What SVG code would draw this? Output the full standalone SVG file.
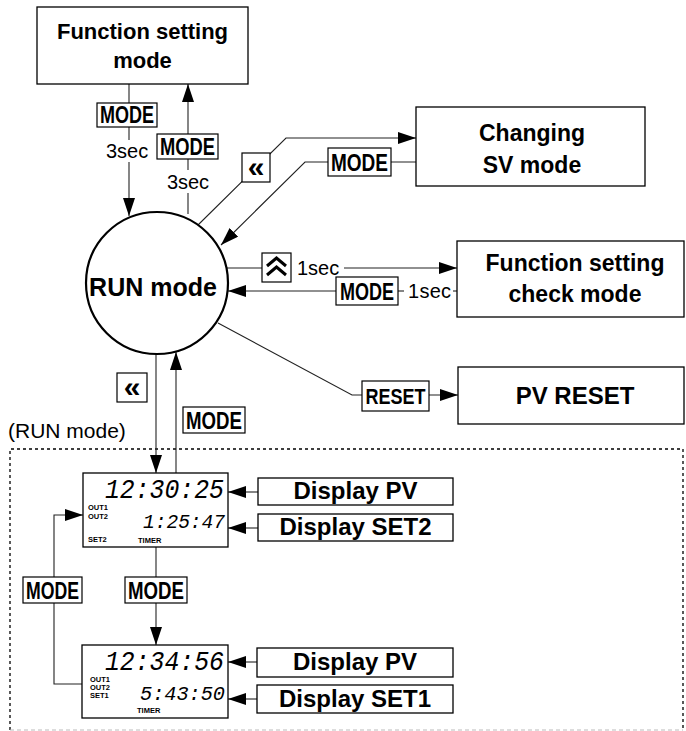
<svg xmlns="http://www.w3.org/2000/svg" width="686" height="731" viewBox="0 0 686 731">
<style>
.box{fill:#fff;stroke:#000;stroke-width:1.3}
.ln{fill:none;stroke:#222;stroke-width:1.1}
.lbl{font-family:"Liberation Sans",Arial,sans-serif;font-weight:bold;font-size:22px;text-anchor:middle;fill:#000}
.dsp{font-family:"Liberation Sans",Arial,sans-serif;font-weight:bold;font-size:24px;text-anchor:middle;fill:#000}
.key{fill:#fff;stroke:#000;stroke-width:1.2}
.kt{font-family:"Liberation Sans Narrow","Arial Narrow","Liberation Sans",sans-serif;font-weight:bold;font-size:24px;fill:#000}
.sec{font-family:"Liberation Sans",Arial,sans-serif;font-size:20px;fill:#000}
.seg{font-family:"Liberation Mono","DejaVu Sans Mono",monospace;font-style:italic;fill:#000}
.sm{font-family:"Liberation Sans",Arial,sans-serif;font-weight:bold;font-size:7.5px;fill:#000}
</style>
<defs>
<marker id="ah" markerUnits="userSpaceOnUse" markerWidth="18" markerHeight="12" refX="18" refY="6" orient="auto">
<path d="M0,0 L18,6 L0,12 z" fill="#000"/>
</marker>
</defs>

<g id="runRegion">
<path d="M10,730 L10,449 L683,449 L683,730" fill="none" stroke="#000" stroke-width="1.3" stroke-dasharray="3,3"/>
<path d="M10,730 L683,730" fill="none" stroke="#bbb" stroke-width="1" stroke-dasharray="4,3"/>
<text x="8" y="438" class="sec" style="font-size:21px">(RUN mode)</text>
</g>

<g id="connectors">
<path class="ln" d="M129,84 V103"/>
<path class="ln" d="M129,127 V140"/>
<path class="ln" d="M129,162 V216" marker-end="url(#ah)"/>
<path class="ln" d="M188,214 V193"/>
<path class="ln" d="M188,170 V159"/>
<path class="ln" d="M188,134 V84" marker-end="url(#ah)"/>
<path class="ln" d="M198,225 L286,138 H416" marker-end="url(#ah)"/>
<path class="ln" d="M416,162 H305 L221,245" marker-end="url(#ah)"/>
<path class="ln" d="M227,268 H262"/>
<path class="ln" d="M344,268 H457" marker-end="url(#ah)"/>
<path class="ln" d="M457,291 H453"/>
<path class="ln" d="M398,291 H404"/>
<path class="ln" d="M336,291 H228" marker-end="url(#ah)"/>
<path class="ln" d="M218,323 L352,395 H458" marker-end="url(#ah)"/>
<path class="ln" d="M156,354 V473" marker-end="url(#ah)"/>
<path class="ln" d="M176,473 V352" marker-end="url(#ah)"/>
<path class="ln" d="M156,547 V645" marker-end="url(#ah)"/>
<path class="ln" d="M82,684 H54 V515 H83" marker-end="url(#ah)"/>
<path class="ln" d="M258,492 H228" marker-end="url(#ah)"/>
<path class="ln" d="M258,528 H228" marker-end="url(#ah)"/>
<path class="ln" d="M257,662 H228" marker-end="url(#ah)"/>
<path class="ln" d="M257,699 H228" marker-end="url(#ah)"/>
</g>

<g id="keys">
<rect class="key" x="97" y="103" width="60" height="24"/>
<text class="kt" x="127" y="123" text-anchor="middle" textLength="54" lengthAdjust="spacingAndGlyphs">MODE</text>
<text class="sec" x="106" y="158">3sec</text>
<rect class="key" x="157" y="134" width="61" height="25"/>
<text class="kt" x="187.5" y="155" text-anchor="middle" textLength="55" lengthAdjust="spacingAndGlyphs">MODE</text>
<text class="sec" x="188" y="189" text-anchor="middle">3sec</text>

<rect class="key" x="242" y="153" width="28" height="29"/>
<text x="256" y="177" text-anchor="middle" font-family="Liberation Sans,sans-serif" font-weight="bold" font-size="30">«</text>
<rect class="key" x="328" y="148" width="63" height="28"/>
<text class="kt" x="359.5" y="171" text-anchor="middle" textLength="57" lengthAdjust="spacingAndGlyphs">MODE</text>

<rect class="key" x="262" y="253" width="29" height="29"/>
<path d="M267,266 L276.5,258 L286,266 M267,275 L276.5,267 L286,275" fill="none" stroke="#000" stroke-width="3"/>
<text class="sec" x="297" y="275">1sec</text>
<rect class="key" x="336" y="277" width="62" height="28"/>
<text class="kt" x="367" y="300" text-anchor="middle" textLength="54" lengthAdjust="spacingAndGlyphs">MODE</text>
<text class="sec" x="408" y="298" textLength="43">1sec</text>

<rect class="key" x="362" y="381" width="67" height="30"/>
<text class="kt" x="395.5" y="404" text-anchor="middle" style="font-size:22px" textLength="60" lengthAdjust="spacingAndGlyphs">RESET</text>

<rect class="key" x="117" y="373" width="30" height="29"/>
<text x="132" y="397" text-anchor="middle" font-family="Liberation Sans,sans-serif" font-weight="bold" font-size="30">«</text>
<rect class="key" x="183" y="407" width="62" height="26"/>
<text class="kt" x="214" y="429" text-anchor="middle" textLength="56" lengthAdjust="spacingAndGlyphs">MODE</text>

<rect class="key" x="23" y="577" width="59" height="26"/>
<text class="kt" x="52.5" y="599" text-anchor="middle" textLength="53" lengthAdjust="spacingAndGlyphs">MODE</text>
<rect class="key" x="125" y="577" width="62" height="26"/>
<text class="kt" x="156" y="599" text-anchor="middle" textLength="56" lengthAdjust="spacingAndGlyphs">MODE</text>
</g>

<g id="functionSettingMode">
<rect class="box" x="37" y="7" width="211" height="77"/>
<text class="lbl" x="142.5" y="39">Function setting</text>
<text class="lbl" x="142.5" y="68">mode</text>
</g>

<g id="runMode">
<circle cx="157" cy="283" r="71" fill="#fff" stroke="#000" stroke-width="2.2"/>
<text class="lbl" x="153" y="296" style="font-size:25px">RUN mode</text>
</g>

<g id="changingSV">
<rect class="box" x="416" y="107" width="229" height="79"/>
<text class="lbl" x="532" y="141" style="font-size:23px">Changing</text>
<text class="lbl" x="532" y="173" style="font-size:23px">SV mode</text>
</g>

<g id="functionCheck">
<rect class="box" x="457" y="241" width="227" height="76"/>
<text class="lbl" x="575" y="271" style="font-size:23px">Function setting</text>
<text class="lbl" x="575" y="302" style="font-size:23px">check mode</text>
</g>

<g id="pvReset">
<rect class="box" x="458" y="367" width="226" height="57"/>
<text class="dsp" x="575" y="404">PV RESET</text>
</g>

<g id="panel1">
<rect class="box" x="83" y="473" width="145" height="74"/>
<text class="seg" x="105" y="498" font-size="27" textLength="119" lengthAdjust="spacingAndGlyphs">12:30:25</text>
<text class="seg" x="143" y="528" font-size="20" textLength="82" lengthAdjust="spacingAndGlyphs">1:25:47</text>
<text class="sm" x="88" y="510">OUT1</text>
<text class="sm" x="88" y="519">OUT2</text>
<text class="sm" x="88" y="542">SET2</text>
<text class="sm" x="138" y="543">TIMER</text>
</g>

<g id="panel2">
<rect class="box" x="82" y="645" width="146" height="73"/>
<text class="seg" x="105" y="670" font-size="27" textLength="119" lengthAdjust="spacingAndGlyphs">12:34:56</text>
<text class="seg" x="140" y="700" font-size="20" textLength="85" lengthAdjust="spacingAndGlyphs">5:43:50</text>
<text class="sm" x="90" y="682">OUT1</text>
<text class="sm" x="90" y="690">OUT2</text>
<text class="sm" x="90" y="698">SET1</text>
<text class="sm" x="137" y="713">TIMER</text>
</g>

<g id="displayPV1">
<rect class="box" x="258" y="478" width="195" height="27"/>
<text class="dsp" x="355.5" y="499">Display PV</text>
</g>
<g id="displaySET2">
<rect class="box" x="258" y="514" width="195" height="27"/>
<text class="dsp" x="355.5" y="535">Display SET2</text>
</g>
<g id="displayPV2">
<rect class="box" x="257" y="648" width="196" height="29"/>
<text class="dsp" x="355" y="670">Display PV</text>
</g>
<g id="displaySET1">
<rect class="box" x="257" y="685" width="196" height="28"/>
<text class="dsp" x="355" y="707">Display SET1</text>
</g>
</svg>
